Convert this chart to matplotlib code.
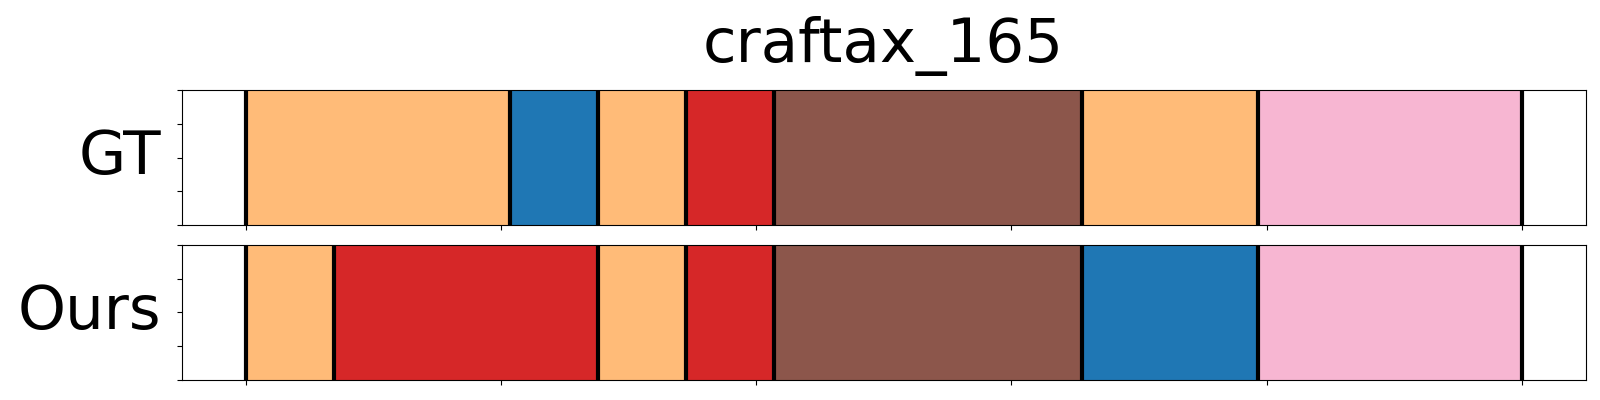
import matplotlib
matplotlib.use("Agg")
import matplotlib.pyplot as plt

# segment boundaries in frames and the action class of each segment
TITLE = "craftax_165"
ROW_NAMES = ["GT", "Ours"]
gt_bounds = [0, 30, 40, 50, 60, 95, 115, 145]
gt_classes = [3, 0, 3, 6, 10, 3, 13]
ours_bounds = [0, 10, 40, 50, 60, 95, 115, 145]
ours_classes = [3, 6, 3, 6, 10, 0, 13]

cmap = plt.get_cmap("tab20")


def draw_row(ax, bounds, classes, name):
    total = bounds[-1]
    xs = [b / total for b in bounds]
    for x0, x1, c in zip(xs[:-1], xs[1:], classes):
        ax.axvspan(x0, x1, color=cmap(c), lw=0)
    for x in xs:
        ax.axvline(x, color="black", lw=3)
    ax.set_ylim(0, 1)
    ax.set_xticklabels([])
    ax.set_yticklabels([])
    ax.set_ylabel(name, rotation=0, fontsize=44, ha="right", va="center", labelpad=7.5)


fig, axes = plt.subplots(2, 1, figsize=(16, 4), dpi=100)
fig.subplots_adjust(left=0.1136, right=0.991, top=0.775, bottom=0.05, hspace=0.148)
draw_row(axes[0], gt_bounds, gt_classes, ROW_NAMES[0])
draw_row(axes[1], ours_bounds, ours_classes, ROW_NAMES[1])
axes[0].set_title(TITLE, fontsize=44, pad=20)

fig.savefig("out.png", dpi=100)
